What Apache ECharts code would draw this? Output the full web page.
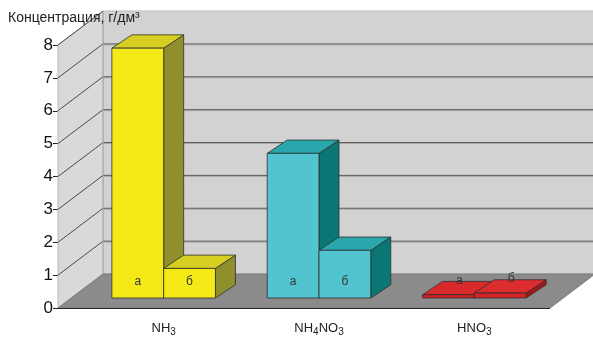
<!DOCTYPE html>
<html>
<head>
<meta charset="utf-8">
<script src="https://cdn.jsdelivr.net/npm/echarts@6/dist/echarts.min.js"></script>
<style>
  html, body { margin: 0; padding: 0; background: #fff; }
  #chart { width: 593px; height: 339px; }
</style>
</head>
<body>
<div id="chart"></div>
<script>
// Concentration of each compound, two samples (а, б), g/dm³
const categories = ['NH3', 'NH4NO3', 'HNO3'];
const categoryLabels = ['{n|NH}{s|3}', '{n|NH}{s|4}{n|NO}{s|3}', '{n|HNO}{s|3}'];
const seriesA = [7.6, 4.4, 0.1];
const seriesB = [0.9, 1.45, 0.15];
const seriesNames = ['а', 'б'];
const yTicks = [0, 1, 2, 3, 4, 5, 6, 7, 8];

const FONT = '"Liberation Sans", Arial, sans-serif';

// Depth offsets (pixels) relative to the plane holding the bar fronts
const FRONT = [-13, 10];   // front edge of the floor / y axis plane
const BACK = [32, -24];    // back wall plane
const BAR_DEPTH = [20, -13.3];

const palettes = [
  [
    { front: '#f5ea17', top: '#d6cf22', side: '#8f8f2e' },
    { front: '#52c4cf', top: '#2aa6ad', side: '#0b7774' },
    { front: '#d42224', top: '#d9292b', side: '#9e1719' }
  ],
  [
    { front: '#f5ea17', top: '#d6cf22', side: '#8f8f2e' },
    { front: '#52c4cf', top: '#2aa6ad', side: '#0b7774' },
    { front: '#d62426', top: '#dc2c2e', side: '#a0181a' }
  ]
];

function wallRender(params, api) {
  const r = params.coordSys;
  const yv = v => api.coord([0, v])[1];
  const L = r.x - 15, R = r.x + r.width + 11;
  const y0 = yv(0), y8 = yv(yTicks[yTicks.length - 1]);
  const fl = L + FRONT[0], fr = R + FRONT[0];
  const bl = L + BACK[0], br = R + BACK[0] + 10;
  const children = [];
  // back wall
  children.push({ type: 'polygon', shape: { points: [[bl, y8 + BACK[1]], [br, y8 + BACK[1]], [br, y0 + BACK[1]], [bl, y0 + BACK[1]]] },
    style: { fill: '#d2d2d2', stroke: '#bdbdbd', lineWidth: 1 } });
  // side wall
  children.push({ type: 'polygon', shape: { points: [[fl, y0 + FRONT[1]], [bl, y0 + BACK[1]], [bl, y8 + BACK[1]], [fl, y8 + FRONT[1]]] },
    style: { fill: '#d9d9d9', stroke: '#b8b8b8', lineWidth: 1 } });
  // grid lines on the back wall and the side wall
  yTicks.slice(1).forEach(v => {
    const yb = yv(v) + BACK[1];
    if (v < 8) {
      children.push({ type: 'line', shape: { x1: bl, y1: yb + 1, x2: br, y2: yb + 1 }, style: { stroke: '#a8a8a8', lineWidth: 1 } });
      children.push({ type: 'line', shape: { x1: bl, y1: yb, x2: br, y2: yb }, style: { stroke: '#5c5c5c', lineWidth: 1 } });
    }
    children.push({ type: 'line', shape: { x1: fl, y1: yv(v) + FRONT[1], x2: bl, y2: yb }, style: { stroke: '#4a4a4a', lineWidth: 1 } });
  });
  // floor
  children.push({ type: 'polygon', shape: { points: [[fl, y0 + FRONT[1]], [fr, y0 + FRONT[1]], [R + BACK[0], y0 + BACK[1]], [bl, y0 + BACK[1]]] },
    style: { fill: '#8b8b8b', stroke: '#7a7a7a', lineWidth: 1 } });
  children.push({ type: 'line', shape: { x1: bl, y1: y8 + BACK[1], x2: bl, y2: y0 + BACK[1] }, style: { stroke: '#a9a9a9', lineWidth: 1 } });
  children.push({ type: 'line', shape: { x1: fl, y1: y0 + FRONT[1] + 0.5, x2: fr, y2: y0 + FRONT[1] + 0.5 }, style: { stroke: '#2a2a2a', lineWidth: 1.2 } });
  return { type: 'group', children };
}

function barRender(k) {
  return function (params, api) {
    const ci = api.value(0), v = api.value(1);
    const top = api.coord([ci, v]);
    const base = api.coord([ci, 0]);
    const bw = api.size([1, 0])[0] / 3;
    const x0 = k === 0 ? top[0] - bw : top[0];
    const x1 = x0 + bw;
    const yT = top[1], yB = base[1];
    const [dx, dy] = BAR_DEPTH;
    const c = palettes[k][ci];
    const edge = { stroke: '#2e2e2e', lineWidth: 0.8, lineJoin: 'round' };
    const children = [
      { type: 'polygon', shape: { points: [[x1, yT], [x1 + dx, yT + dy], [x1 + dx, yB + dy], [x1, yB]] }, style: Object.assign({ fill: c.side }, edge) },
      { type: 'polygon', shape: { points: [[x0, yT], [x0 + dx, yT + dy], [x1 + dx, yT + dy], [x1, yT]] }, style: Object.assign({ fill: c.top }, edge) },
      { type: 'rect', shape: { x: x0, y: yT, width: bw, height: yB - yT }, style: Object.assign({ fill: c.front }, edge) }
    ];
    // sample letter: inside the base, or above a very short bar
    let lx, ly;
    if (v >= 0.6) {
      lx = (x0 + x1) / 2;
      ly = api.coord([ci, 0.5])[1];
    } else {
      lx = (x0 + x1) / 2 + dx / 2 + 1;
      ly = yT + dy / 2 - 7 - (k === 1 ? 1 : 0);
    }
    children.push({ type: 'text', style: { text: seriesNames[k], x: lx, y: ly, align: 'center', verticalAlign: 'middle',
      fill: '#333', font: '12px ' + FONT } });
    return { type: 'group', children };
  };
}

const chart = echarts.init(document.getElementById('chart'), null, { renderer: 'canvas' });
chart.setOption({
  animation: false,
  backgroundColor: '#ffffff',
  title: {
    text: 'Концентрация, г/дм³',
    left: 3, top: 6,
    textStyle: { fontFamily: FONT, fontSize: 14, fontWeight: 'normal', color: '#222' }
  },
  grid: [
    { left: 86, top: 35, width: 466, height: 263 },   // bar fronts
    { left: 58, top: 45, width: 492, height: 263 }    // front axis plane
  ],
  xAxis: [
    {
      gridIndex: 0, type: 'category', data: categories,
      axisLine: { show: false }, axisTick: { show: false },
      axisLabel: {
        margin: 24,
        formatter: (val, i) => categoryLabels[i],
        rich: {
          n: { fontFamily: FONT, fontSize: 13, color: '#222', lineHeight: 15, verticalAlign: 'top' },
          s: { fontFamily: FONT, fontSize: 10, color: '#222', lineHeight: 15, verticalAlign: 'top', padding: [5, 0, 0, 0] }
        }
      }
    },
    { gridIndex: 1, type: 'value', show: false, min: 0, max: 1 }
  ],
  yAxis: [
    { gridIndex: 0, type: 'value', min: 0, max: 8, interval: 1, show: false },
    {
      gridIndex: 1, type: 'value', min: 0, max: 8, interval: 1,
      axisLine: { show: true, lineStyle: { color: '#222', width: 1 } },
      axisTick: { show: true, inside: false, length: 5, lineStyle: { color: '#222' } },
      axisLabel: { fontFamily: FONT, fontSize: 17, color: '#111', margin: 5, formatter: v => String(v) },
      splitLine: { show: false }
    }
  ],
  series: [
    { type: 'custom', xAxisIndex: 0, yAxisIndex: 0, renderItem: wallRender, data: [[0, 0]], silent: true, z: 1 },
    { type: 'custom', name: seriesNames[0], xAxisIndex: 0, yAxisIndex: 0, renderItem: barRender(0),
      data: seriesA.map((v, i) => [i, v]), z: 2 },
    { type: 'custom', name: seriesNames[1], xAxisIndex: 0, yAxisIndex: 0, renderItem: barRender(1),
      data: seriesB.map((v, i) => [i, v]), z: 3 }
  ]
});
</script>
</body>
</html>
